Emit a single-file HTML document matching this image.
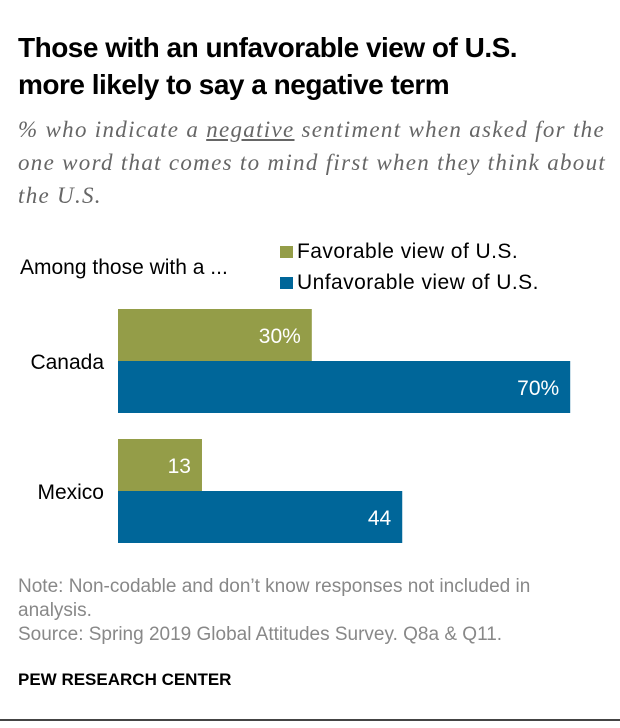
<!DOCTYPE html>
<html><head><meta charset="utf-8"><style>
body{margin:0;background:#fff;width:620px;height:728px;overflow:hidden;font-family:"Liberation Sans",sans-serif;position:relative}
.t{position:absolute;white-space:nowrap}
</style></head><body>
<div class="t" style="left:18px;top:29px;font-size:28px;font-weight:bold;line-height:37px;color:#000;letter-spacing:-0.5px">Those with an unfavorable view of U.S.<br>more likely to say a negative term</div>
<div class="t" style="left:18px;top:113px;font-family:'Liberation Serif',serif;font-style:italic;font-size:23px;line-height:33px;color:#666;letter-spacing:1.3px">% who indicate a <u>negative</u> sentiment when asked for the<br>one word that comes to mind first when they think about<br>the U.S.</div>
<div class="t" style="left:20px;top:256px;font-size:21px;color:#000">Among those with a ...</div>
<div class="t" style="left:280px;top:238px;font-size:21px;line-height:28px;letter-spacing:0.45px"><span style="display:inline-block;width:13px;height:12px;background:#949d48;margin-right:4px"></span>Favorable view of U.S.</div>
<div class="t" style="left:280px;top:269px;font-size:21px;line-height:28px;letter-spacing:0.45px"><span style="display:inline-block;width:13px;height:12px;background:#006699;margin-right:4px"></span>Unfavorable view of U.S.</div>
<svg id="chart" width="620" height="728" style="position:absolute;left:0;top:0" xmlns="http://www.w3.org/2000/svg"></svg>
<div class="t" style="left:18px;top:575px;font-size:19px;line-height:24px;color:#888">Note: Non-codable and don’t know responses not included in<br>analysis.<br>Source: Spring 2019 Global Attitudes Survey. Q8a &amp; Q11.</div>
<div class="t" style="left:18px;top:670px;font-size:17px;font-weight:bold;color:#000">PEW RESEARCH CENTER</div>
<div style="position:absolute;left:0;top:719px;width:620px;height:2px;background:#444"></div>
<script>
const categories=["Canada","Mexico"];
const favorable=[30,13];
const unfavorable=[70,44];
const favLabels=["30%","13"];
const unfavLabels=["70%","44"];
const svg=document.getElementById('chart');
const NS="http://www.w3.org/2000/svg";
const x0=118,scale=6.46,barH=52,groupTop=[309,439];
function xw(v){return v*scale;}
function mk(tag,attrs){const e=document.createElementNS(NS,tag);for(const k in attrs)e.setAttribute(k,attrs[k]);svg.appendChild(e);return e;}
categories.forEach((c,i)=>{
  const y=groupTop[i];
  const lab=mk('text',{x:104,y:y+barH+8,'text-anchor':'end','font-size':21,'font-family':'Liberation Sans, sans-serif',fill:'#000'});
  lab.textContent=c;
  
  
  [[favorable,favLabels,'#949d48',0],[unfavorable,unfavLabels,'#006699',barH]].forEach(([vals,labs,col,off])=>{
    const w=xw(vals[i]);
    const r=mk('rect',{x:x0,y:y+off,width:w,height:barH,fill:col});
    
    
    const t=mk('text',{x:x0+w-11,y:y+off+barH/2+8,'text-anchor':'end','font-size':21,'font-family':'Liberation Sans, sans-serif',fill:'#fff'});
    t.textContent=labs[i];
    
    
  });
});
</script>
</body></html>
